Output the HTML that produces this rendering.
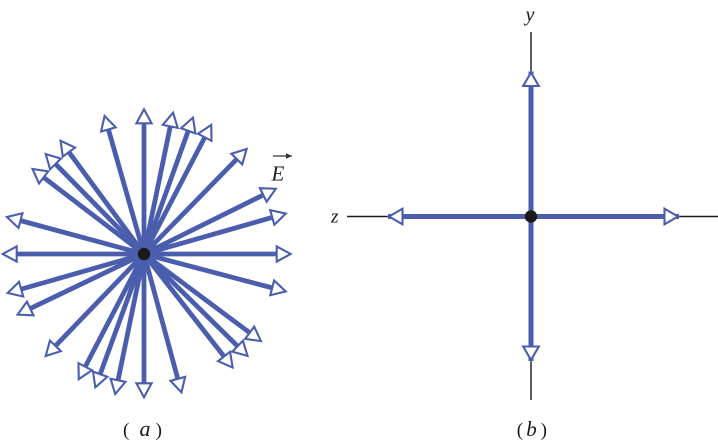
<!DOCTYPE html>
<html>
<head>
<meta charset="utf-8">
<style>
  html,body{margin:0;padding:0;background:#fff;}
  svg{display:block;}
  text{font-family:"Liberation Serif","DejaVu Serif",serif;fill:#1a1a1a;}
</style>
</head>
<body>
<svg width="718" height="445" viewBox="0 0 718 445" xmlns="http://www.w3.org/2000/svg">
  <defs>
    <marker id="ah" markerUnits="userSpaceOnUse" orient="auto" refX="0" refY="0" markerWidth="1" markerHeight="1" overflow="visible">
      <path d="M-1,0 L-15,-7.6 L-15,7.6 Z" fill="#fff" stroke="#4b5eae" stroke-width="2.1" stroke-linejoin="miter"/>
    </marker>
    <marker id="ahb" markerUnits="userSpaceOnUse" orient="auto" refX="0" refY="0" markerWidth="1" markerHeight="1" overflow="visible">
      <path d="M-1,0 L-14.5,-7.8 L-14.5,7.8 Z" fill="#fff" stroke="#4b5eae" stroke-width="2.1" stroke-linejoin="miter"/>
    </marker>
    <marker id="small" markerUnits="userSpaceOnUse" orient="auto" refX="0" refY="0" markerWidth="1" markerHeight="1" overflow="visible">
      <path d="M0,0 L-6,-2.8 L-6,2.8 Z" fill="#333"/>
    </marker>
  </defs>

  <!-- Panel (a) radial arrows -->
  <g stroke="#4b5eae" stroke-width="4.8" fill="none" marker-end="url(#ah)">
    <line x1="144" y1="254" x2="144" y2="108.3" pathLength="1000" stroke-dasharray="935 1000"/>
    <line x1="144" y1="254" x2="104.3" y2="115" pathLength="1000" stroke-dasharray="935 1000"/>
    <line x1="144" y1="254" x2="60" y2="140" pathLength="1000" stroke-dasharray="935 1000"/>
    <line x1="144" y1="254" x2="45" y2="153.3" pathLength="1000" stroke-dasharray="935 1000"/>
    <line x1="144" y1="254" x2="31.7" y2="168.3" pathLength="1000" stroke-dasharray="935 1000"/>
    <line x1="144" y1="254" x2="6" y2="216.7" pathLength="1000" stroke-dasharray="935 1000"/>
    <line x1="144" y1="254" x2="1.7" y2="254" pathLength="1000" stroke-dasharray="935 1000"/>
    <line x1="144" y1="254" x2="6.7" y2="293.3" pathLength="1000" stroke-dasharray="935 1000"/>
    <line x1="144" y1="254" x2="16.7" y2="315" pathLength="1000" stroke-dasharray="935 1000"/>
    <line x1="144" y1="254" x2="45" y2="356.7" pathLength="1000" stroke-dasharray="935 1000"/>
    <line x1="144" y1="254" x2="78.3" y2="380" pathLength="1000" stroke-dasharray="935 1000"/>
    <line x1="144" y1="254" x2="95" y2="388.3" pathLength="1000" stroke-dasharray="935 1000"/>
    <line x1="144" y1="254" x2="115" y2="395" pathLength="1000" stroke-dasharray="935 1000"/>
    <line x1="144" y1="254" x2="144" y2="398.3" pathLength="1000" stroke-dasharray="935 1000"/>
    <line x1="144" y1="254" x2="181.7" y2="393.3" pathLength="1000" stroke-dasharray="935 1000"/>
    <line x1="144" y1="254" x2="233.3" y2="368.3" pathLength="1000" stroke-dasharray="935 1000"/>
    <line x1="144" y1="254" x2="248.3" y2="356.7" pathLength="1000" stroke-dasharray="935 1000"/>
    <line x1="144" y1="254" x2="261.7" y2="341.7" pathLength="1000" stroke-dasharray="935 1000"/>
    <line x1="144" y1="254" x2="286.7" y2="291.7" pathLength="1000" stroke-dasharray="935 1000"/>
    <line x1="144" y1="254" x2="291.7" y2="254" pathLength="1000" stroke-dasharray="935 1000"/>
    <line x1="144" y1="254" x2="286.7" y2="213.3" pathLength="1000" stroke-dasharray="935 1000"/>
    <line x1="144" y1="254" x2="276.7" y2="188.3" pathLength="1000" stroke-dasharray="935 1000"/>
    <line x1="144" y1="254" x2="247.3" y2="148.3" pathLength="1000" stroke-dasharray="935 1000"/>
    <line x1="144" y1="254" x2="211.7" y2="124" pathLength="1000" stroke-dasharray="935 1000"/>
    <line x1="144" y1="254" x2="193.3" y2="116.7" pathLength="1000" stroke-dasharray="935 1000"/>
    <line x1="144" y1="254" x2="173.3" y2="111.7" pathLength="1000" stroke-dasharray="935 1000"/>
  </g>
  <circle cx="144" cy="254" r="6.2" fill="#1a1a1a"/>

  <!-- E vector label -->
  <line x1="273" y1="156" x2="292" y2="156" stroke="#333" stroke-width="1.3" marker-end="url(#small)"/>
  <text x="271.5" y="180.5" font-size="21" font-style="italic">E</text>

  <!-- (a) label -->
  <text x="123" y="436" font-size="19">(</text>
  <text x="145" y="436" font-size="22" font-style="italic" text-anchor="middle">a</text>
  <text x="162" y="436" font-size="19" text-anchor="end">)</text>

  <!-- Panel (b) axes -->
  <line x1="531" y1="32" x2="531" y2="400" stroke="#1a1a1a" stroke-width="1.4"/>
  <line x1="347" y1="216.5" x2="718" y2="216.5" stroke="#1a1a1a" stroke-width="1.4"/>

  <g stroke="#4b5eae" stroke-width="5" fill="none" marker-end="url(#ahb)">
    <line x1="531" y1="216.5" x2="531" y2="71.5"/>
    <line x1="531" y1="216.5" x2="531" y2="361"/>
    <line x1="531" y1="216.5" x2="388" y2="216.5"/>
    <line x1="531" y1="216.5" x2="679" y2="216.5"/>
  </g>
  <circle cx="531" cy="216.5" r="6.2" fill="#1a1a1a"/>

  <text x="530" y="21" font-size="20" font-style="italic" text-anchor="middle">y</text>
  <text x="331" y="222.5" font-size="19" font-style="italic">z</text>

  <!-- (b) label -->
  <text x="516.7" y="436" font-size="19">(</text>
  <text x="531.5" y="436" font-size="21" font-style="italic" text-anchor="middle">b</text>
  <text x="547" y="436" font-size="19" text-anchor="end">)</text>
</svg>
</body>
</html>
